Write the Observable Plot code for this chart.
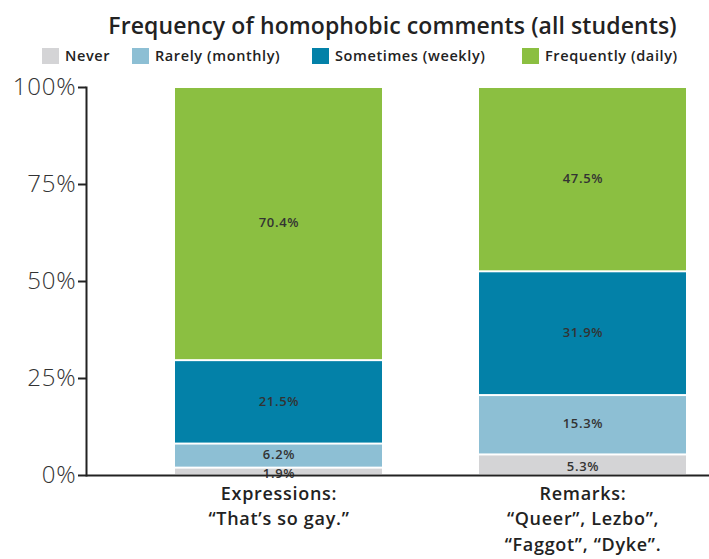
<!DOCTYPE html>
<html>
<head>
<meta charset="utf-8">
<script src="https://cdn.jsdelivr.net/npm/d3@7"></script>
<script src="https://cdn.jsdelivr.net/npm/@observablehq/plot@0.6"></script>
<style>
  html, body { margin: 0; padding: 0; background: #fff; }
  #wrap { width: 709px; font-family: "Open Sans", sans-serif; color: #222; }
  #title { height: 44px; line-height: 50px; font-size: 23px; font-weight: 600; letter-spacing: 0.1px; text-align: center; margin-left: 76px; width: 633px; white-space: nowrap; }
  #legend { height: 26px; position: relative; font-size: 14.5px; font-weight: 600; letter-spacing: 0.6px; }
  .item { position: absolute; top: 2px; display: flex; align-items: center; white-space: nowrap; }
  .sw { width: 17px; height: 16px; margin-right: 6px; }
  svg { display: block; }
  g[aria-label="x-axis tick label"] text { letter-spacing: 0.7px; }
  g[aria-label="y-axis tick label"] text { letter-spacing: 0.8px; }
  g[aria-label="text"] text { letter-spacing: 0.7px; }
</style>
</head>
<body>
<div id="wrap">
  <div id="title">Frequency of homophobic comments (all students)</div>
  <div id="legend"></div>
  <div id="chart"></div>
</div>
<script>
const categories = ["Expressions", "Remarks"];
const categoryLabels = ["Expressions:\n“That’s so gay.”", "Remarks:\n“Queer”, Lezbo”,\n“Faggot”, “Dyke”."];
const levels = ["Never", "Rarely (monthly)", "Sometimes (weekly)", "Frequently (daily)"];
const expressionsValues = [1.9, 6.2, 21.5, 70.4];
const remarksValues = [5.3, 15.3, 31.9, 47.5];
const levelColors = ["#d4d4d6", "#8dbfd4", "#0381a8", "#8bbf41"];
const yTicks = [0, 25, 50, 75, 100];
const legendLeft = [42, 132, 312, 522];

const series = [expressionsValues, remarksValues];
const data = categories.flatMap((c, i) => levels.map((l, j) => ({category: c, level: l, value: series[i][j]})));

// legend
const legend = document.getElementById("legend");
levels.forEach((l, i) => {
  const it = document.createElement("div");
  it.className = "item";
  it.style.left = legendLeft[i] + "px";
  it.innerHTML = `<span class="sw" style="background:${levelColors[i]}"></span><span>${l}</span>`;
  legend.appendChild(it);
});

const labelOf = new Map(categories.map((c, i) => [c, categoryLabels[i]]));
const fmt = d => d.value.toFixed(1) + "%";

const chart = Plot.plot({
  width: 709,
  height: 489,
  marginTop: 17,
  marginBottom: 84,
  marginLeft: 86,
  marginRight: 0,
  style: {fontFamily: "Open Sans, sans-serif", color: "#222", background: "white"},
  x: {domain: categories, range: [175, 686], paddingInner: 0.32, paddingOuter: 0},
  y: {domain: [0, 100]},
  color: {domain: levels, range: levelColors},
  marks: [
    Plot.barY(data, {x: "category", y: "value", fill: "level", insetTop: 1, insetBottom: 1}),
    Plot.text(data, Plot.stackY({x: "category", y: "value", z: "level",
      text: d => d.level === levels[0] ? "" : fmt(d), fontSize: 13, fontWeight: 600, fill: "#333", dy: -1})),
    Plot.text(data, Plot.stackY({x: "category", y: "value", z: "level",
      text: d => d.level === levels[0] ? fmt(d) : "", fontSize: 13, fontWeight: 600, fill: "#333", dy: 2})),
    Plot.axisY({ticks: yTicks, tickFormat: d => d + "%", tickSize: 8, tickPadding: 2,
      fontSize: 24, fontWeight: 300, strokeWidth: 2, stroke: "#222", fill: "#333", label: null}),
    Plot.axisX({tickSize: 0, tickPadding: 6, tickFormat: d => labelOf.get(d),
      fontSize: 18, fontWeight: 600, lineHeight: 1.42, fill: "#222", label: null}),
    Plot.ruleY([0], {stroke: "#222", strokeWidth: 2}),
    Plot.frame({anchor: "left", stroke: "#222", strokeWidth: 2})
  ]
});
document.getElementById("chart").appendChild(chart);
</script>
</body>
</html>
